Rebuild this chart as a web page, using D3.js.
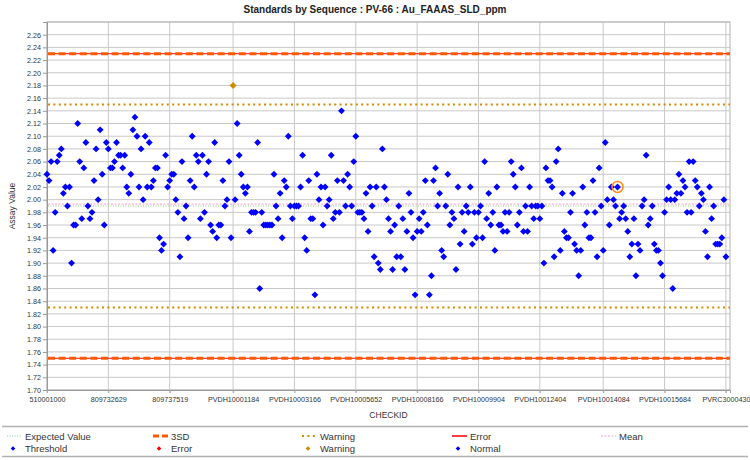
<!DOCTYPE html>
<html>
<head>
<meta charset="utf-8">
<script src="https://cdn.jsdelivr.net/npm/d3@7"></script>
<style>
  body { margin: 0; background: #fff; }
  text { font-family: "Liberation Sans", Arial, sans-serif; }
</style>
</head>
<body>
<script>
const width = 750;
const height = 460;

// Assay values in run order
const assayValues = [
  2.04, 2.03, 2.06, 1.92, 1.98, 2.06, 2.07, 2.08, 2.01, 2.02,
  1.99, 2.02, 1.90, 1.96, 1.96, 2.12, 2.06, 1.97, 2.05, 2.09,
  1.99, 1.97, 1.98, 2.03, 2.08, 2.00, 2.11, 2.04, 1.96, 2.09,
  2.08, 2.05, 2.05, 2.06, 2.09, 2.07, 2.07, 2.05, 2.07, 2.02,
  2.01, 2.04, 2.11, 2.13, 2.10, 2.02, 2.08, 2.00, 2.10, 2.02,
  2.09, 2.02, 2.03, 2.05, 2.05, 1.94, 1.92, 1.93, 2.07, 2.02,
  2.03, 2.04, 2.04, 2.00, 1.98, 1.91, 2.06, 1.97, 1.99, 1.94,
  2.03, 2.10, 2.02, 2.07, 2.06, 1.97, 2.07, 1.98, 2.04, 2.06,
  1.96, 1.95, 2.09, 1.94, 1.96, 1.96, 2.03, 1.99, 2.00, 2.06,
  1.94, 2.18, 2.00, 2.12, 2.07, 2.04, 2.02, 2.01, 2.02, 1.95,
  1.98, 1.98, 1.98, 2.09, 1.86, 1.98, 1.96, 1.96, 1.96,
  1.96, 1.96, 2.04, 1.99, 1.97, 2.01, 1.94, 2.03, 2.02, 2.10,
  1.99, 1.97, 1.99, 1.99, 1.99, 2.02, 2.07, 1.94, 1.92, 2.03,
  1.97, 1.97, 1.85, 2.04, 2.00, 2.02, 1.96, 2.02, 1.99, 2.00,
  2.07, 1.97, 1.98, 2.03, 1.98, 2.14, 2.03, 1.99, 2.04, 2.02,
  1.99, 2.06, 2.10, 1.98, 1.98, 1.98, 1.97, 2.01, 1.95, 2.02,
  1.99, 1.91, 2.02, 1.90, 1.89, 2.08, 2.02, 2.00, 1.97, 1.95,
  1.89, 1.96, 1.91, 1.99, 1.91, 1.97, 1.89, 1.95, 2.01, 1.98,
  1.94, 1.85, 1.95, 1.97, 1.95, 1.98, 2.03, 1.96, 1.85, 1.88,
  2.03, 2.05, 1.99, 2.01, 1.92, 1.91, 1.99, 2.04, 1.96, 1.98,
  1.97, 1.89, 2.02, 1.93, 1.98, 1.95, 1.99, 1.98, 2.02, 1.93,
  1.98, 1.94, 1.98, 1.99, 1.94, 2.06, 1.97, 2.01, 1.96, 1.98,
  1.92, 2.02, 1.96,
  1.96, 1.95, 1.98, 1.95, 1.98, 2.06, 2.04, 2.02, 1.96, 1.98,
  2.05, 1.95, 1.99, 1.95, 2.02, 1.99, 1.97, 1.99, 1.99, 1.97,
  1.99, 1.90, 2.05, 2.03, 2.03, 2.02, 1.91, 2.06, 2.08, 1.92,
  2.01, 1.95, 1.94, 1.94, 1.98, 2.01, 1.93, 1.92, 1.88, 1.92,
  2.02, 1.96, 1.98, 1.94, 1.94, 2.03, 1.98, 1.91, 2.05, 1.99,
  1.92, 2.09, 2.00, 1.96, 2.02, 2.00, 1.99, 2.02, 1.97, 1.98,
  1.99, 1.97, 1.95, 1.91, 1.93, 1.97, 1.88, 1.93, 1.92, 1.99,
  2.00, 2.07, 1.96, 1.97, 1.99, 1.93, 1.92, 1.92, 1.90, 1.88,
  1.98, 2.00, 2.02, 2.00, 1.86, 2.00, 2.01, 2.04, 2.01, 2.03,
  2.02, 1.98, 2.06, 1.98, 2.06, 2.03, 2.02, 1.99, 2.01, 2.00,
  1.95, 1.91, 2.02, 1.97, 1.99, 1.93, 1.93, 1.93, 1.94, 2.00,
  1.91
];

// CHECKID labels shown on the category axis
const checkIdLabels = [
  "510001000", "809732629", "809737519", "PVDH10001184", "PVDH10003166",
  "PVDH10005652", "PVDH10008166", "PVDH10009904", "PVDH10012404",
  "PVDH10014084", "PVDH10015684", "PVRC3000430"
];

// Control limits
const expectedValue = 1.99;
const meanValue = 1.993;
const threeSDLimits = [1.75, 2.23];
const errorLimits = [1.75, 2.23];
const warningLimits = [1.83, 2.15];
const highlightedIndex = 279;

//COLOURS
const blue = "#0000ff";
const warnColor = "#d08a00";
const sdColor = "#ff5a00";
const errColor = "#ff0000";
const meanColor = "#ff99cc";
const expColor = "#8fd17a";
const gridColor = "#c8c8c8";

const svg = d3.select("body").append("svg")
  .attr("width", width)
  .attr("height", height);

const plotLeft = 47, plotRight = 730, plotTop = 22, plotBottom = 390;

const x = d3.scaleLinear()
  .domain([0, assayValues.length + 1])
  .range([plotLeft, plotRight]);

const y = d3.scaleLinear()
  .domain([1.70, 2.28])
  .range([plotBottom, plotTop]);

const yTicks = d3.range(0, 29).map(i => +(1.70 + i * 0.02).toFixed(2));
const xTicks = checkIdLabels.map((d, k) =>
  Math.round(k * (assayValues.length - 1) / (checkIdLabels.length - 1)));

// title
svg.append("text")
  .attr("x", width / 2)
  .attr("y", 13)
  .attr("text-anchor", "middle")
  .style("font-size", "10px")
  .style("font-weight", "bold")
  .style("fill", "#222")
  .text("Standards by Sequence : PV-66 : Au_FAAAS_SLD_ppm");

// horizontal grid
svg.append("g")
  .selectAll("line")
  .data(yTicks.concat([2.28]))
  .join("line")
  .attr("x1", plotLeft).attr("x2", plotRight)
  .attr("y1", d => y(d)).attr("y2", d => y(d))
  .attr("stroke", gridColor)
  .attr("stroke-width", 1);

// vertical grid
svg.append("g")
  .selectAll("line")
  .data(xTicks)
  .join("line")
  .attr("x1", d => x(d)).attr("x2", d => x(d))
  .attr("y1", plotTop).attr("y2", plotBottom + 3)
  .attr("stroke", gridColor)
  .attr("stroke-width", 1);

// plot frame
svg.append("rect")
  .attr("x", plotLeft).attr("y", plotTop)
  .attr("width", plotRight - plotLeft).attr("height", plotBottom - plotTop)
  .attr("fill", "none")
  .attr("stroke", "#b4b4b4");

// y axis
const yAxis = svg.append("g")
  .attr("transform", `translate(${plotLeft},0)`)
  .call(d3.axisLeft(y).tickValues(yTicks).tickFormat(d3.format(".2f")).tickSize(4).tickPadding(2));
yAxis.select(".domain").attr("stroke", "#999");
yAxis.selectAll(".tick line").attr("stroke", "#999");
yAxis.selectAll("text")
  .style("font-size", "7.2px")
  .style("fill", "#333");

// x axis labels
const xAxis = svg.append("g")
  .attr("transform", `translate(0,${plotBottom})`)
  .call(d3.axisBottom(x).tickValues(xTicks).tickFormat((d, i) => checkIdLabels[i]).tickSize(3).tickPadding(4));
xAxis.select(".domain").attr("stroke", "#999");
xAxis.selectAll(".tick line").attr("stroke", "#aaa");
xAxis.selectAll("text")
  .style("font-size", "7.2px")
  .style("fill", "#333");

// axis titles
svg.append("text")
  .attr("x", (plotLeft + plotRight) / 2)
  .attr("y", 418)
  .attr("text-anchor", "middle")
  .style("font-size", "8.5px")
  .style("fill", "#333")
  .text("CHECKID");

svg.append("text")
  .attr("transform", `translate(15,${(plotTop + plotBottom) / 2}) rotate(-90)`)
  .attr("text-anchor", "middle")
  .style("font-size", "8.5px")
  .style("fill", "#333")
  .text("Assay Value");

// reference lines
function hLine(v, color, w, dash) {
  svg.append("line")
    .attr("x1", plotLeft + 1).attr("x2", plotRight)
    .attr("y1", y(v)).attr("y2", y(v))
    .attr("stroke", color)
    .attr("stroke-width", w)
    .attr("stroke-dasharray", dash);
}
hLine(expectedValue, expColor, 1, "1,1.5");
hLine(meanValue, meanColor, 1, "2,1.5");
warningLimits.forEach(v => hLine(v, warnColor, 2, "2,3.4"));
errorLimits.forEach(v => hLine(v, errColor, 1, null));
threeSDLimits.forEach(v => hLine(v, sdColor, 3, "7,3.6"));

// points
const diamond = d3.symbol().type(d3.symbolDiamond2).size(30);
svg.append("g")
  .selectAll("path")
  .data(assayValues)
  .join("path")
  .attr("transform", (d, i) => `translate(${x(i)},${y(d)})`)
  .attr("d", diamond)
  .attr("fill", d => (d > warningLimits[1] || d < warningLimits[0]) ? warnColor : blue);

// highlighted sample
svg.append("circle")
  .attr("cx", x(highlightedIndex))
  .attr("cy", y(assayValues[highlightedIndex]))
  .attr("r", 5.5)
  .attr("fill", "none")
  .attr("stroke", "#ff8a1c")
  .attr("stroke-width", 1.5);

// LEGEND
svg.append("line").attr("x1", 2).attr("x2", 748).attr("y1", 426.5).attr("y2", 426.5)
  .attr("stroke", "#b0b0b0").attr("stroke-width", 1.5);
svg.append("line").attr("x1", 2).attr("x2", 748).attr("y1", 456.5).attr("y2", 456.5)
  .attr("stroke", "#b0b0b0").attr("stroke-width", 1.5);

const legendCols = [7, 153, 302, 452, 601];
const row1 = 436, row2 = 448.5;

const legendLines = [
  {label: "Expected Value", color: expColor, w: 1, dash: "1,1.5"},
  {label: "3SD", color: sdColor, w: 3, dash: "6,3"},
  {label: "Warning", color: warnColor, w: 2, dash: "2,3.4"},
  {label: "Error", color: errColor, w: 1.5, dash: null},
  {label: "Mean", color: meanColor, w: 1, dash: "2,1.5"}
];
const legendMarks = [
  {label: "Threshold", color: blue},
  {label: "Error", color: errColor},
  {label: "Warning", color: warnColor},
  {label: "Normal", color: blue}
];

legendLines.forEach((d, i) => {
  const cx = legendCols[i];
  svg.append("line")
    .attr("x1", cx).attr("x2", cx + 15)
    .attr("y1", row1).attr("y2", row1)
    .attr("stroke", d.color)
    .attr("stroke-width", d.w)
    .attr("stroke-dasharray", d.dash);
  svg.append("text")
    .attr("x", cx + 18).attr("y", row1 + 3.5)
    .style("font-size", "9.5px")
    .style("fill", "#333")
    .text(d.label);
});

const smallDiamond = d3.symbol().type(d3.symbolDiamond2).size(14);
legendMarks.forEach((d, i) => {
  const cx = legendCols[i];
  svg.append("path")
    .attr("transform", `translate(${cx + 6},${row2})`)
    .attr("d", smallDiamond)
    .attr("fill", d.color);
  svg.append("text")
    .attr("x", cx + 18).attr("y", row2 + 3.5)
    .style("font-size", "9.5px")
    .style("fill", "#333")
    .text(d.label);
});
</script>
</body>
</html>
